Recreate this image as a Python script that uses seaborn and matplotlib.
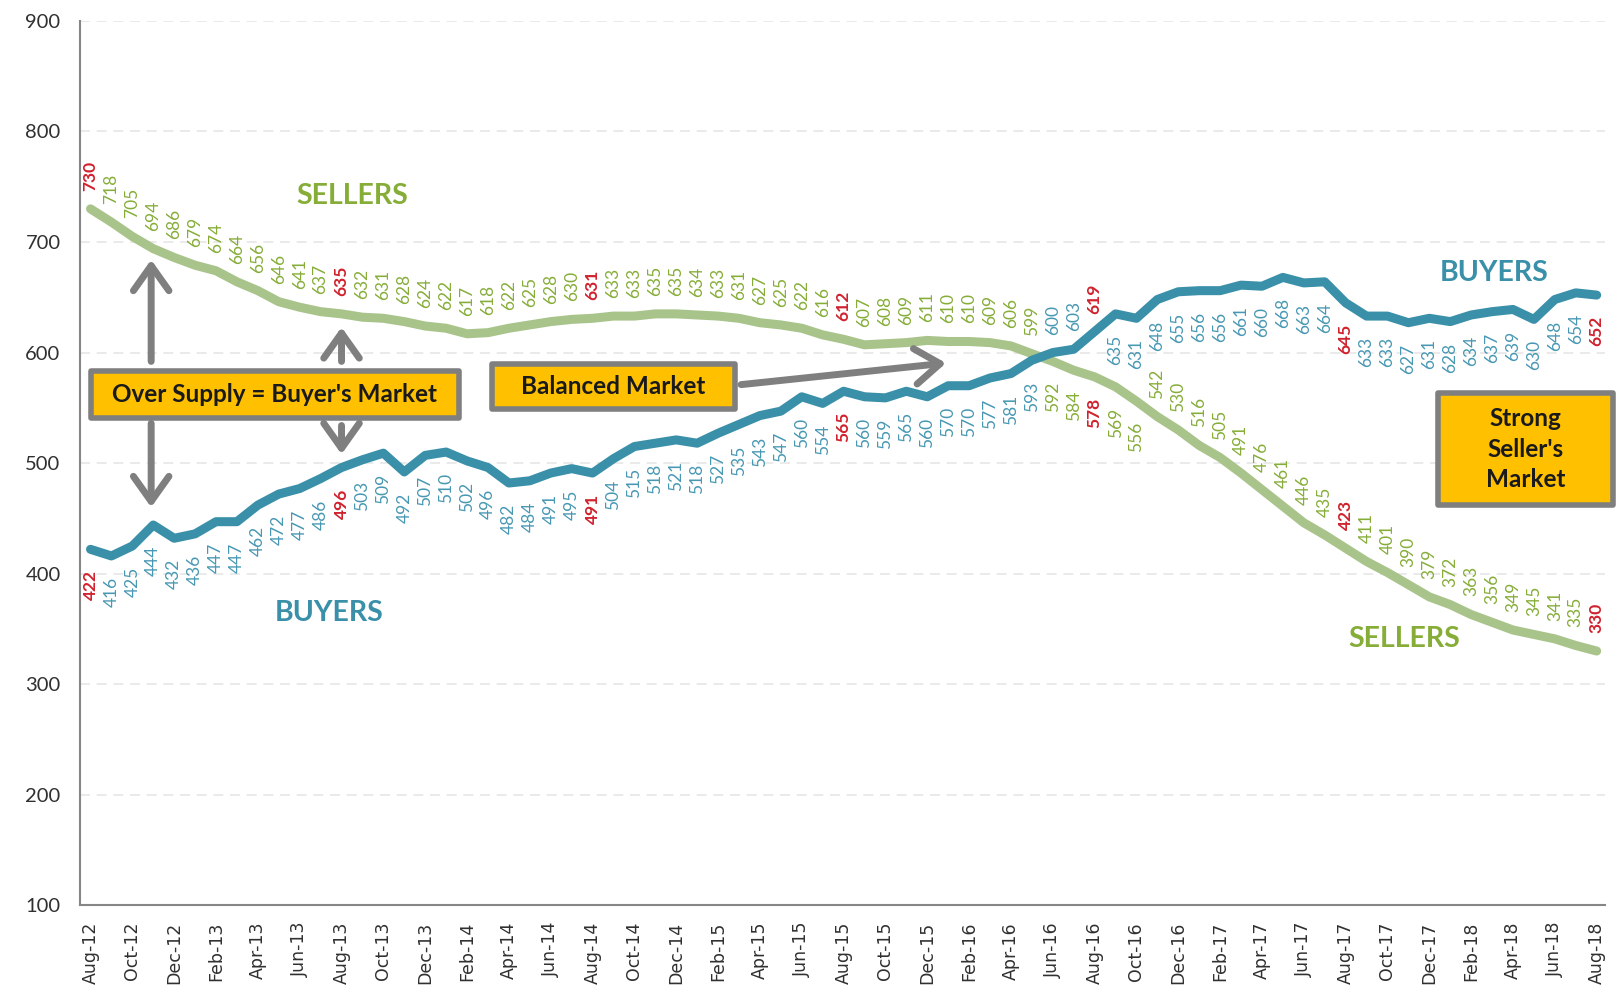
import matplotlib
matplotlib.use('Agg')
import matplotlib.pyplot as plt
from matplotlib.patches import Rectangle
import pandas as pd
import seaborn as sns

SELLERS = [730, 718, 705, 694, 686, 679, 674, 664, 656, 646, 641, 637, 635,
           632, 631, 628, 624, 622, 617, 618, 622, 625, 628, 630, 631,
           633, 633, 635, 635, 634, 633, 631, 627, 625, 622, 616, 612,
           607, 608, 609, 611, 610, 610, 609, 606, 599, 592, 584, 578,
           569, 556, 542, 530, 516, 505, 491, 476, 461, 446, 435, 423,
           411, 401, 390, 379, 372, 363, 356, 349, 345, 341, 335, 330]
BUYERS = [422, 416, 425, 444, 432, 436, 447, 447, 462, 472, 477, 486, 496,
          503, 509, 492, 507, 510, 502, 496, 482, 484, 491, 495, 491,
          504, 515, 518, 521, 518, 527, 535, 543, 547, 560, 554, 565,
          560, 559, 565, 560, 570, 570, 577, 581, 593, 600, 603, 619,
          635, 631, 648, 655, 656, 656, 661, 660, 668, 663, 664, 645,
          633, 633, 627, 631, 628, 634, 637, 639, 630, 648, 654, 652]
TICK_LABELS = ['Aug-12', 'Oct-12', 'Dec-12', 'Feb-13', 'Apr-13', 'Jun-13',
               'Aug-13', 'Oct-13', 'Dec-13', 'Feb-14', 'Apr-14', 'Jun-14',
               'Aug-14', 'Oct-14', 'Dec-14', 'Feb-15', 'Apr-15', 'Jun-15',
               'Aug-15', 'Oct-15', 'Dec-15', 'Feb-16', 'Apr-16', 'Jun-16',
               'Aug-16', 'Oct-16', 'Dec-16', 'Feb-17', 'Apr-17', 'Jun-17',
               'Aug-17', 'Oct-17', 'Dec-17', 'Feb-18', 'Apr-18', 'Jun-18',
               'Aug-18']

SELLER_LINE = '#A9C48B'
SELLER_TEXT = '#86AD38'
BUYER_LINE = '#3A90A9'
BUYER_TEXT = '#4898B3'
RED = '#D0222E'
ARROW = '#7F7F7F'
BOX = '#FFC000'

sns.set_style("white")
plt.rcParams['font.family'] = ['Lato', 'DejaVu Sans']

df = pd.DataFrame({'month': range(len(SELLERS)), 'sellers': SELLERS, 'buyers': BUYERS})

fig, ax = plt.subplots(figsize=(16.17, 9.97), dpi=100)
fig.subplots_adjust(left=0.0495, right=0.9926, top=0.979, bottom=0.092)

sns.lineplot(data=df, x='month', y='sellers', ax=ax, color=SELLER_LINE,
             linewidth=6.5, solid_capstyle='round', solid_joinstyle='round', zorder=3)
sns.lineplot(data=df, x='month', y='buyers', ax=ax, color=BUYER_LINE,
             linewidth=6.5, solid_capstyle='round', solid_joinstyle='round', zorder=4)


def value_label(i, v, above, color):
    is_aug = i % 12 == 0
    ax.annotate(str(v), (i, v), xytext=(0, 13 if above else -15),
                textcoords='offset points', rotation=90, ha='center',
                va='bottom' if above else 'top', fontsize=12.5,
                color=RED if is_aug else color,
                fontweight='bold' if is_aug else 'normal', zorder=5)


# sellers labels sit above the line except just after the crossing
for i, v in enumerate(SELLERS):
    value_label(i, v, not (46 <= i <= 50), SELLER_TEXT)
for i, v in enumerate(BUYERS):
    value_label(i, v, 46 <= i <= 48, BUYER_TEXT)

# series names
name_kw = dict(fontsize=20.5, fontweight='bold', ha='center', va='center')
ax.text(12.5, 742, 'SELLERS', color=SELLER_TEXT, **name_kw)
ax.text(62.8, 341, 'SELLERS', color=SELLER_TEXT, **name_kw)
ax.text(11.4, 364, 'BUYERS', color=BUYER_LINE, **name_kw)
ax.text(67.1, 672, 'BUYERS', color=BUYER_LINE, **name_kw)

# arrows
arrow_kw = dict(arrowstyle='->,head_length=0.45,head_width=0.32', lw=5, color=ARROW,
                mutation_scale=40, shrinkA=0, shrinkB=0)
ax.annotate('', xy=(2.9, 684), xytext=(2.9, 592), arrowprops=arrow_kw, zorder=6)
ax.annotate('', xy=(2.9, 460), xytext=(2.9, 536), arrowprops=arrow_kw, zorder=6)
ax.annotate('', xy=(12.0, 623), xytext=(12.0, 592), arrowprops=arrow_kw, zorder=6)
ax.annotate('', xy=(12.0, 508), xytext=(12.0, 534), arrowprops=arrow_kw, zorder=6)
ax.annotate('', xy=(40.9, 590.5), xytext=(31.1, 571), arrowprops=arrow_kw, zorder=6)


# callout boxes
def callout(x0, x1, y0, y1, text):
    ax.add_patch(Rectangle((x0, y0), x1 - x0, y1 - y0, facecolor=BOX, edgecolor=ARROW,
                           linewidth=4, joinstyle='round', zorder=7, clip_on=False))
    ax.text((x0 + x1) / 2, (y0 + y1) / 2, text, fontsize=17.5, fontweight='bold',
            color='#1A1A1A', ha='center', va='center', linespacing=1.4, zorder=8)


callout(0.0, 17.6, 541, 583, "Over Supply = Buyer's Market")
callout(19.2, 30.8, 548.5, 590, "Balanced Market")
callout(64.4, 72.8, 462, 563, "Strong\nSeller's\nMarket")

ax.set_xlim(-0.5, 72.4)
ax.set_ylim(100, 900)
ax.set_yticks(range(100, 1000, 100))
ax.set_xticks(range(0, len(SELLERS), 2))
ax.set_xticklabels(TICK_LABELS, rotation=90, family='DejaVu Sans', fontsize=12.5, color='#303030')
ax.tick_params(axis='y', labelsize=14.5, colors='#303030', length=6, color='#868686', pad=8)
ax.tick_params(axis='x', length=6, color='#868686', pad=6)
ax.set_xlabel('')
ax.set_ylabel('')
ax.grid(axis='y', linestyle=(0, (6, 4)), color='#E6E6E6', linewidth=1.2)
ax.set_axisbelow(True)
sns.despine(ax=ax)
for side in ['left', 'bottom']:
    ax.spines[side].set_color('#868686')
    ax.spines[side].set_linewidth(1.5)

plt.savefig('out.png', dpi=100)
